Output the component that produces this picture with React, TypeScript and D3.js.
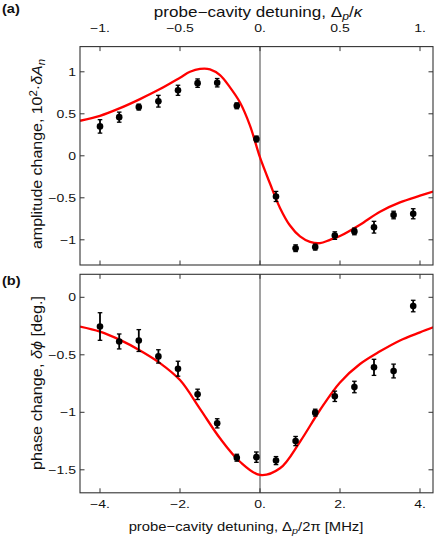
import React from 'react';
import * as d3 from 'd3';

// measured detunings (MHz) and data
const detuning = [-4, -3.52, -3.03, -2.54, -2.05, -1.56, -1.07, -0.58, -0.09, 0.4, 0.89, 1.38, 1.87, 2.36, 2.85, 3.34, 3.83];
const amplitude = [0.35, 0.46, 0.58, 0.65, 0.78, 0.865, 0.87, 0.595, 0.2, -0.484, -1.1, -1.087, -0.95, -0.9, -0.85, -0.705, -0.69];
const amplitudeErr = [0.08, 0.06, 0.035, 0.07, 0.06, 0.05, 0.05, 0.035, 0.035, 0.06, 0.04, 0.035, 0.045, 0.04, 0.07, 0.045, 0.06];
const phase = [-0.254, -0.384, -0.376, -0.514, -0.621, -0.844, -1.096, -1.395, -1.39, -1.42, -1.25, -1.003, -0.861, -0.78, -0.609, -0.641, -0.076];
const phaseErr = [0.12, 0.065, 0.095, 0.058, 0.065, 0.045, 0.04, 0.03, 0.045, 0.035, 0.04, 0.03, 0.045, 0.05, 0.07, 0.06, 0.05];

// theory curves
const ampCurveX = [-4.5, -4, -3.5, -3, -2.5, -2, -1.75, -1.5, -1.25, -1, -0.75, -0.5, -0.25, 0, 0.25, 0.5, 0.75, 1, 1.25, 1.5, 1.75, 2, 2.5, 3, 3.5, 4, 4.33];
const ampCurveY = [0.417, 0.476, 0.567, 0.675, 0.794, 0.93, 1.0, 1.035, 1.03, 0.96, 0.815, 0.635, 0.36, -0.02, -0.33, -0.62, -0.83, -0.96, -1.025, -1.04, -1.0, -0.955, -0.82, -0.665, -0.555, -0.475, -0.425];
const phaseCurveX = [-4.5, -4, -3.5, -3, -2.5, -2, -1.5, -1, -0.5, 0, 0.5, 1, 1.5, 2, 2.5, 3, 3.5, 4, 4.33];
const phaseCurveY = [-0.254, -0.298, -0.37, -0.462, -0.572, -0.72, -0.97, -1.226, -1.43, -1.545, -1.487, -1.256, -0.98, -0.74, -0.58, -0.47, -0.375, -0.305, -0.261];

const mhzTicks = [-4, -2, 0, 2, 4];
const mhzLabels = ['\u22124.', '\u22122.', '0.', '2.', '4.'];
const kappaLabels = ['\u22121.', '\u22120.5', '0.', '0.5', '1.'];
const ampTicks = [1, 0.5, 0, -0.5, -1];
const ampLabels = ['1', '0.5', '0', '\u22120.5', '\u22121'];
const phaseTicks = [0, -0.5, -1, -1.5];
const phaseLabels = ['0', '\u22120.5', '\u22121', '\u22121.5'];

const FONT = 'Liberation Sans, Arial, sans-serif';
const L = 80, R = 433;

const x = d3.scaleLinear().domain([-4.5, 4.325]).range([L, R]);
const yA = d3.scaleLinear().domain([-1.3, 1.3]).range([265, 46.6]);
const yB = d3.scaleLinear().domain([-1.7, 0.2]).range([492.8, 274.3]);

type Scale = d3.ScaleLinear<number, number>;

// the original lettering is wider than Arial at the same height, so stretch along the baseline
function T({ x, y, rot = 0, anchor = 'middle', size = 11.5, sx = 1.22, weight, children }: any) {
  return (
    <text transform={`translate(${x},${y}) rotate(${rot}) scale(${sx},1)`} textAnchor={anchor}
      fontSize={size} fontWeight={weight}>
      {children}
    </text>
  );
}

function Panel({ id, y, ticks, labels, vals, errs, cx, cy }: {
  id: string; y: Scale; ticks: number[]; labels: string[];
  vals: number[]; errs: number[]; cx: number[]; cy: number[];
}) {
  const [y0, y1] = y.range();
  const top = Math.min(y0, y1), bot = Math.max(y0, y1);
  const line = d3.line<number>()
    .x((_, i) => x(cx[i]))
    .y(d => y(d))
    .curve(d3.curveCatmullRom.alpha(0.5));
  return (
    <g>
      <defs>
        <clipPath id={id}><rect x={L} y={top} width={R - L} height={bot - top} /></clipPath>
      </defs>
      <line x1={x(0)} x2={x(0)} y1={top} y2={bot} stroke="#444" strokeWidth={1} />
      <path d={line(cy) || ''} fill="none" stroke="#f00" strokeWidth={2.3} clipPath={`url(#${id})`} />
      {vals.map((v, i) => (
        <g key={i}>
          <line x1={x(detuning[i])} x2={x(detuning[i])} y1={y(v - errs[i])} y2={y(v + errs[i])} stroke="#000" strokeWidth={1.8} />
          <line x1={x(detuning[i]) - 2.3} x2={x(detuning[i]) + 2.3} y1={y(v - errs[i])} y2={y(v - errs[i])} stroke="#000" strokeWidth={1.3} />
          <line x1={x(detuning[i]) - 2.3} x2={x(detuning[i]) + 2.3} y1={y(v + errs[i])} y2={y(v + errs[i])} stroke="#000" strokeWidth={1.3} />
          <circle cx={x(detuning[i])} cy={y(v)} r={3.3} fill="#000" />
        </g>
      ))}
      {ticks.map((t, i) => (
        <g key={'y' + i}>
          <line x1={L} x2={L + 4.5} y1={y(t)} y2={y(t)} stroke="#333" />
          <line x1={R - 4.5} x2={R} y1={y(t)} y2={y(t)} stroke="#333" />
          <T x={76} y={y(t) + 4} anchor="end">{labels[i]}</T>
        </g>
      ))}
      {mhzTicks.map((t, i) => (
        <g key={'x' + i}>
          <line x1={x(t)} x2={x(t)} y1={top} y2={top + 4.5} stroke="#333" />
          <line x1={x(t)} x2={x(t)} y1={bot - 4.5} y2={bot} stroke="#333" />
        </g>
      ))}
      <rect x={L} y={top} width={R - L} height={bot - top} fill="none" stroke="#333" strokeWidth={1.1} />
    </g>
  );
}

export default function App() {
  return (
    <svg width={436} height={540} style={{ position: 'absolute', left: 0, top: 0, background: '#fff' }}
      fontFamily={FONT} fill="#111">
      <T x={2} y={13} anchor="start" size={12} weight="bold">(a)</T>
      <T x={2} y={285} anchor="start" size={12} weight="bold">(b)</T>

      <T x={258} y={17} size={14}>
        probe{'\u2212'}cavity detuning, {'\u0394'}<tspan fontStyle="italic" fontSize={10} dy={3}>p</tspan>
        <tspan dy={-3}>/</tspan><tspan fontStyle="italic">{'\u03ba'}</tspan>
      </T>
      {mhzTicks.map((t, i) => (
        <T key={'k' + i} x={x(t)} y={31.5}>{kappaLabels[i]}</T>
      ))}

      <Panel id="clipA" y={yA} ticks={ampTicks} labels={ampLabels} vals={amplitude} errs={amplitudeErr} cx={ampCurveX} cy={ampCurveY} />
      <Panel id="clipB" y={yB} ticks={phaseTicks} labels={phaseLabels} vals={phase} errs={phaseErr} cx={phaseCurveX} cy={phaseCurveY} />

      <T x={42} y={154} rot={-90} size={14} sx={1.14}>
        amplitude change, 10<tspan fontSize={10} dy={-5}>2</tspan><tspan dy={5}>{'\u00b7'}</tspan>
        <tspan fontStyle="italic">{'\u03b4'}A</tspan><tspan fontStyle="italic" fontSize={10} dy={3}>n</tspan>
      </T>
      <T x={42} y={383} rot={-90} size={14} sx={1.16}>
        phase change, <tspan fontStyle="italic">{'\u03b4\u03d5'}</tspan> [deg.]
      </T>

      {mhzTicks.map((t, i) => (
        <T key={'m' + i} x={x(t)} y={507.5}>{mhzLabels[i]}</T>
      ))}
      <T x={246} y={531} size={13} sx={1.14}>
        probe{'\u2212'}cavity detuning, {'\u0394'}<tspan fontStyle="italic" fontSize={9.5} dy={3}>p</tspan>
        <tspan dy={-3}>/2</tspan><tspan>{'\u03c0'}</tspan> [MHz]
      </T>
    </svg>
  );
}
